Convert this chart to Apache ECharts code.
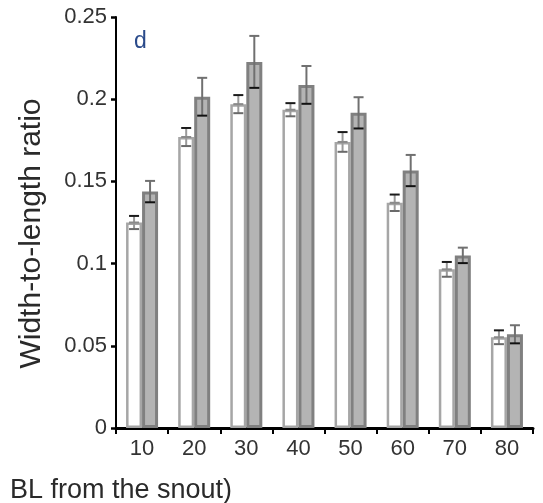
<!DOCTYPE html>
<html>
<head>
<meta charset="utf-8">
<script src="https://cdn.jsdelivr.net/npm/echarts@6/dist/echarts.min.js"></script>
<style>
html,body{margin:0;padding:0;background:#fff;}
#chart{width:543px;height:503px;}
</style>
</head>
<body>
<div id="chart"></div>
<script>
var categories = ['10', '20', '30', '40', '50', '60', '70', '80'];
var whiteMean = [0.125, 0.177, 0.197, 0.1936, 0.174, 0.137, 0.0965, 0.0552];
var whiteSE = [0.004, 0.0055, 0.0055, 0.004, 0.006, 0.005, 0.0045, 0.0042];
var greyMean = [0.1438, 0.2015, 0.2227, 0.2087, 0.1917, 0.1566, 0.105, 0.057];
var greySE = [0.0065, 0.0115, 0.0158, 0.0115, 0.0095, 0.0095, 0.0047, 0.0055];
var yTicks = [0, 0.05, 0.1, 0.15, 0.2, 0.25];
var yTitle = 'Width-to-length ratio';
var xTitle = 'BL from the snout)';
var panelLabel = 'd';

var FONT = '"Liberation Sans", Arial, Helvetica, sans-serif';
var BAR_W = 16;

function errData(mean, se) {
  return mean.map(function (m, i) { return [i, m - se[i], m + se[i], m]; });
}

function errRender(side, stemColor, upCapColor, lowCapColor, midColor) {
  return function (params, api) {
    var idx = api.value(0);
    var lo = api.coord([idx, api.value(1)]);
    var hi = api.coord([idx, api.value(2)]);
    var mid = api.coord([idx, api.value(3)]);
    var x = lo[0] + side * BAR_W / 2;
    var hw = 5;
    var children = [
      { type: 'line', shape: { x1: x, y1: lo[1], x2: x, y2: hi[1] }, style: { stroke: stemColor, lineWidth: 2 } },
      { type: 'line', shape: { x1: x - hw, y1: hi[1], x2: x + hw, y2: hi[1] }, style: { stroke: upCapColor, lineWidth: 2 } },
      { type: 'line', shape: { x1: x - hw, y1: lo[1], x2: x + hw, y2: lo[1] }, style: { stroke: lowCapColor, lineWidth: 2 } }
    ];
    if (midColor) {
      children.push({ type: 'line', shape: { x1: x - hw, y1: mid[1], x2: x + hw, y2: mid[1] }, style: { stroke: midColor, lineWidth: 2 } });
    }
    return { type: 'group', children: children };
  };
}

var chart = echarts.init(document.getElementById('chart'), null, { renderer: 'canvas' });
chart.setOption({
  animation: false,
  backgroundColor: '#ffffff',
  textStyle: { fontFamily: FONT },
  title: [
    { text: xTitle, left: 5, top: 472, textStyle: { fontFamily: FONT, fontSize: 27, fontWeight: 'normal', color: '#2a2a2a' } },
    { text: panelLabel, left: 129, top: 25, textStyle: { fontFamily: FONT, fontSize: 23, fontWeight: 'normal', color: '#2a4a8a' } }
  ],
  grid: { left: 116, right: 10, top: 17, bottom: 75, containLabel: false },
  xAxis: {
    type: 'category',
    data: categories,
    boundaryGap: true,
    axisLine: { show: true, lineStyle: { color: '#000', width: 3 } },
    axisTick: { show: true, length: 6, lineStyle: { color: '#000', width: 2 } },
    axisLabel: { fontFamily: FONT, fontSize: 22, color: '#333', margin: 10 },
    splitLine: { show: false }
  },
  yAxis: {
    type: 'value',
    min: 0,
    max: 0.25,
    interval: 0.05,
    name: yTitle,
    nameLocation: 'middle',
    nameRotate: 90,
    nameGap: 69,
    nameTextStyle: { fontFamily: FONT, fontSize: 30, color: '#2a2a2a', padding: [0, 22, 0, 0] },
    axisLine: { show: true, lineStyle: { color: '#000', width: 2 } },
    axisTick: { show: true, length: 5, lineStyle: { color: '#000', width: 2.5 } },
    axisLabel: {
      fontFamily: FONT, fontSize: 22, color: '#333', margin: 9,
      formatter: function (v) {
        for (var i = 0; i < yTicks.length; i++) { if (Math.abs(yTicks[i] - v) < 1e-9) return String(yTicks[i]); }
        return '';
      }
    },
    splitLine: { show: false }
  },
  series: [
    {
      type: 'bar',
      name: 'white',
      data: whiteMean,
      barWidth: BAR_W,
      barGap: '0%',
      itemStyle: { color: '#ffffff', borderColor: '#a6a6a6', borderWidth: 2.5 },
      z: 2
    },
    {
      type: 'bar',
      name: 'grey',
      data: greyMean,
      barWidth: BAR_W,
      barGap: '0%',
      itemStyle: { color: '#b4b4b4', borderColor: '#808080', borderWidth: 3 },
      z: 2
    },
    {
      type: 'custom',
      name: 'whiteErr',
      data: errData(whiteMean, whiteSE),
      encode: { x: 0, y: [1, 2] },
      renderItem: errRender(-1, '#9a9a9a', '#1a1a1a', '#6a6a6a', '#8a8a8a'),
      z: 5
    },
    {
      type: 'custom',
      name: 'greyErr',
      data: errData(greyMean, greySE),
      encode: { x: 0, y: [1, 2] },
      renderItem: errRender(1, '#707070', '#707070', '#111111', null),
      z: 5
    }
  ]
});
</script>
</body>
</html>
